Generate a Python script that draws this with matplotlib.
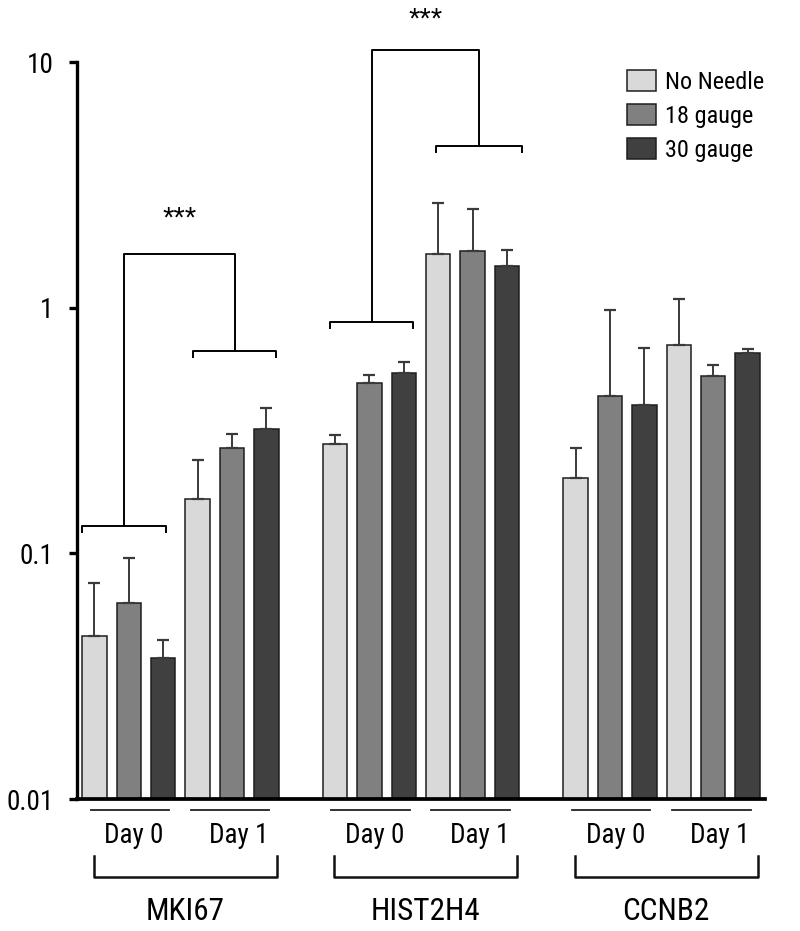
import matplotlib
matplotlib.use("Agg")
import matplotlib.pyplot as plt
import matplotlib.transforms as mtransforms
from matplotlib.patches import Patch
from matplotlib import font_manager
import numpy as np

# ---------------- data ----------------
genes = ["MKI67", "HIST2H4", "CCNB2"]
days = ["Day 0", "Day 1"]
series = ["No Needle", "18 gauge", "30 gauge"]

# values per gene: Day 0 (No Needle, 18 g, 30 g), Day 1 (No Needle, 18 g, 30 g)
mki67_mean = [0.0461, 0.0625, 0.0375, 0.166, 0.269, 0.322]
mki67_top = [0.0759, 0.0961, 0.0444, 0.239, 0.306, 0.390]
hist_mean = [0.278, 0.493, 0.543, 1.656, 1.703, 1.480]
hist_top = [0.302, 0.533, 0.600, 2.670, 2.517, 1.714]
ccnb2_mean = [0.203, 0.435, 0.402, 0.708, 0.526, 0.653]
ccnb2_top = [0.269, 0.977, 0.683, 1.080, 0.583, 0.676]

yticks = [0.01, 0.1, 1, 10]
yticklabels = ["0.01", "0.1", "1", "10"]
sig_label = "***"

# ---------------- fonts ----------------
fl = font_manager.fontManager.ttflist
names = {f.name for f in fl}
narrow_family = None
stretch = "normal"
for cand in ["Liberation Sans Narrow", "Arial Narrow", "Roboto Condensed",
             "Open Sans Condensed", "Noto Sans Condensed"]:
    if cand in names:
        narrow_family = cand
        break
if narrow_family is None:
    for f in fl:
        if f.name in ("Liberation Sans", "Roboto", "Noto Sans", "Open Sans", "DejaVu Sans") \
                and str(f.stretch) in ("condensed", "semi-condensed", "extra-condensed") \
                and f.style == "normal" and f.weight in (400, "normal", "regular"):
            narrow_family = f.name
            stretch = str(f.stretch)
            break

if narrow_family is not None:
    plt.rcParams["font.family"] = [narrow_family, "DejaVu Sans"]
    plt.rcParams["font.stretch"] = stretch
    fs_tick, fs_day, fs_gene, fs_leg = 19.5, 19.5, 22.5, 17.5
else:
    plt.rcParams["font.family"] = ["Liberation Sans", "DejaVu Sans"]
    fs_tick, fs_day, fs_gene, fs_leg = 17.5, 17, 20.5, 15.5
fs_star = 21

colors = ["#d9d9d9", "#808080", "#404040"]
W, H = 800, 931
fig = plt.figure(figsize=(W / 100, H / 100), dpi=100)
ax = fig.add_axes([77 / W, (H - 799) / H, 688 / W, 737 / H])

means = [mki67_mean, hist_mean, ccnb2_mean]
tops = [mki67_top, hist_top, ccnb2_top]

bw = 0.713
for g in range(3):
    for d in range(2):
        for s in range(3):
            k = d * 3 + s
            x = g * 7 + k
            m = means[g][k]
            t = tops[g][k]
            ax.bar(x, m - 0.01, bottom=0.01, width=bw, color=colors[s],
                   edgecolor="#1e1e1e", linewidth=1.1, zorder=2)
            ax.errorbar(x, m, yerr=[[0], [t - m]], fmt="none", ecolor="#3a3a3a",
                        elinewidth=1.4, capsize=4, capthick=1.6, zorder=3)

ax.set_yscale("log")
ax.set_ylim(0.01, 10)
ax.set_xlim(-0.509, 19.508)
ax.set_yticks(yticks)
ax.set_yticklabels(yticklabels)
ax.yaxis.set_minor_locator(matplotlib.ticker.NullLocator())
ax.tick_params(axis="y", length=6, width=2.4, pad=11, labelsize=fs_tick, direction="out")
ax.set_xticks([])
for sp in ["top", "right"]:
    ax.spines[sp].set_visible(False)
ax.spines["left"].set_linewidth(2.4)
ax.spines["bottom"].set_linewidth(2.7)

# significance brackets
def bracket(x0, x1, y, depth_px):
    ydn = 10 ** (np.log10(y) - depth_px / 245.7)
    ax.plot([x0, x0, x1, x1], [ydn, y, y, ydn], color="black", lw=1.4,
            clip_on=False, zorder=4)

def sig(g, y0, y_top, y1, x0a, x0b, xc0, xc1, x1a, x1b, ystar):
    base = g * 7
    bracket(base + x0a, base + x0b, y0, 6)
    bracket(base + x1a, base + x1b, y1, 6)
    ax.plot([base + xc0, base + xc0, base + xc1, base + xc1], [y0, y_top, y_top, y1],
            color="black", lw=1.4, clip_on=False, zorder=4)
    ax.text(base + (xc0 + xc1) / 2, ystar, sig_label, ha="center", va="center",
            fontsize=fs_star, family=["Liberation Sans", "DejaVu Sans"],
            fontstretch="normal", clip_on=False)

sig(0, 0.1287, 1.651, 0.6634, -0.355, 2.07, 0.858, 4.088, 2.866, 5.28, 10 ** ((307.5 - 218) / 245.7))
sig(1, 0.873, 11.14, 4.543, -0.15, 2.27, 1.065, 4.196, 2.936, 5.44, 10 ** ((307.5 - 19) / 245.7))

# day / gene annotations below axis
trans = mtransforms.blended_transform_factory(ax.transData, fig.transFigure)
def fy(p):
    return 1 - p / H

for g, gene in enumerate(genes):
    base = g * 7
    for d, (a, b, tx) in enumerate([(-0.11, 2.17, 1.15), (2.8, 5.09, 4.2)]):
        ax.plot([base + a, base + b], [fy(810), fy(810)], transform=trans,
                color="#222222", lw=1.3, clip_on=False)
        ax.text(base + tx, fy(843), days[d], transform=trans, ha="center",
                va="baseline", fontsize=fs_day)
    ax.plot([base - 0.02, base - 0.02, base + 5.3, base + 5.3],
            [fy(856), fy(877), fy(877), fy(856)], transform=trans,
            color="#111111", lw=1.8, clip_on=False)
    ax.text(base + 2.63, fy(920), gene, transform=trans, ha="center",
            va="baseline", fontsize=fs_gene)

handles = [Patch(facecolor=c, edgecolor="#1e1e1e", linewidth=1.1) for c in colors]
fig.legend(handles, series, loc="upper left", bbox_to_anchor=(627 / W, 1 - 70 / H),
           frameon=False, fontsize=fs_leg, handlelength=1.2, handleheight=0.95,
           handletextpad=0.35, labelspacing=0.42, borderpad=0, borderaxespad=0)

fig.savefig("out.png", dpi=100)
